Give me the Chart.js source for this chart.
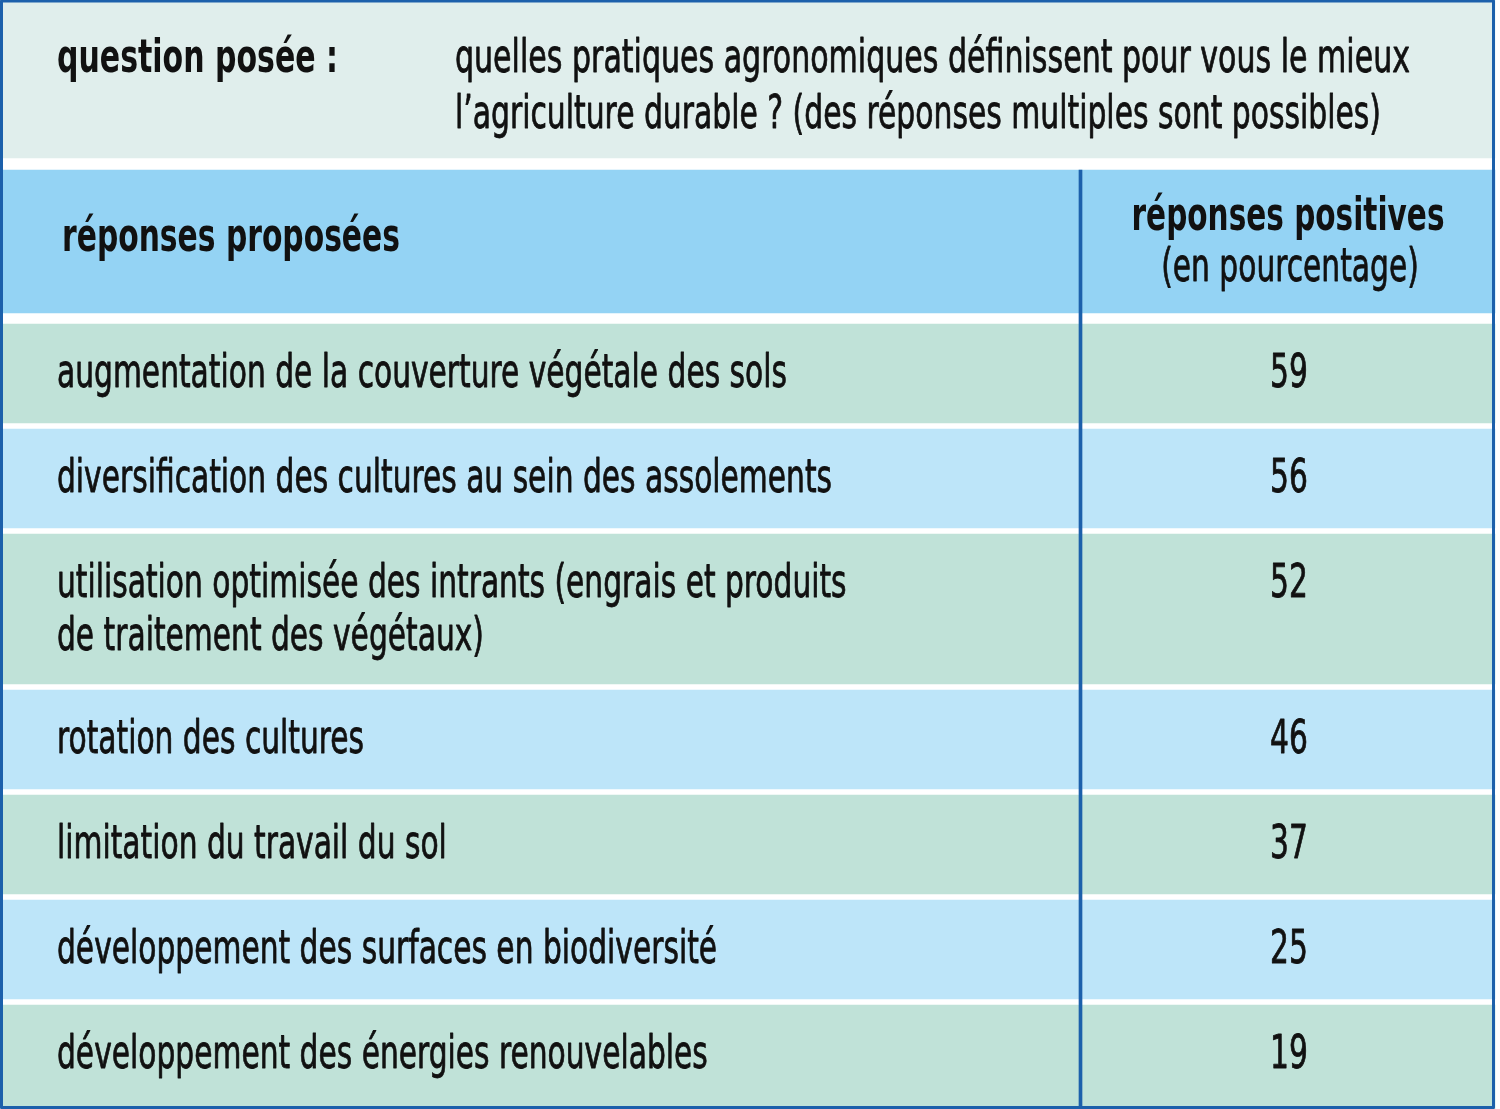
<!DOCTYPE html>
<html>
<head>
<meta charset="utf-8">
<script src="https://cdn.jsdelivr.net/npm/chart.js@4.4.1/dist/chart.umd.min.js"></script>
<style>
  html, body { margin:0; padding:0; background:#fff; }
  #wrap { width:1500px; height:1109px; }
</style>
</head>
<body>
<div id="wrap"><canvas id="table-canvas" width="1500" height="1109"></canvas></div>
<script>
// contenu du tableau
const questionLabel = 'question posée :';
const questionLines = [
  'quelles pratiques agronomiques définissent pour vous le mieux',
  'l’agriculture durable ? (des réponses multiples sont possibles)'
];
const headLeft  = 'réponses proposées';
const headRight = ['réponses positives', '(en pourcentage)'];
const answers = [
  ['augmentation de la couverture végétale des sols'],
  ['diversification des cultures au sein des assolements'],
  ['utilisation optimisée des intrants (engrais et produits', 'de traitement des végétaux)'],
  ['rotation des cultures'],
  ['limitation du travail du sol'],
  ['développement des surfaces en biodiversité'],
  ['développement des énergies renouvelables']
];
const positives = [59, 56, 52, 46, 37, 25, 19];

// mise en page (unités = px, les échelles vont de 0 à W / 0 à H)
const W = 1500, H = 1109, TABLE_R = 1495, COL_X = 1080.5;
const Q_TOP = 0, Q_BOT = 158, HEAD_TOP = 170, HEAD_BOT = 313;
const ROWS_TOP = 324, ROW_GAP = 6, LINE_H = 53;
const rowHeight = n => n === 1 ? 99 : 150;
const GREEN = '#c0e2d8', BLUE = '#bde5f9', HEAD_BG = '#94d3f4', Q_BG = '#e0eeec', INK = '#111111', RULE = '#1c60ab';

const rowTops = [];
let yy = ROWS_TOP;
answers.forEach(a => {
  rowTops.push(yy);
  yy += rowHeight(a.length) + ROW_GAP;
});
const rowBot = i => i === answers.length - 1 ? H : rowTops[i] + rowHeight(answers[i].length);

const band = (top, bot, color) => ({
  type: 'bar', data: [{ y: (top + bot) / 2, x: [0, TABLE_R] }],
  backgroundColor: color, barThickness: bot - top, grouped: false, borderWidth: 0, order: 1
});

const datasets = [
  // filet vertical entre les deux colonnes (order bas = dessiné par-dessus)
  { type: 'bar', data: [{ y: (HEAD_TOP + H) / 2, x: [COL_X - 1.5, COL_X + 1.5] }],
    backgroundColor: RULE, barThickness: H - HEAD_TOP, grouped: false, borderWidth: 0, order: 0 },
  band(Q_TOP, Q_BOT, Q_BG),
  band(HEAD_TOP, HEAD_BOT, HEAD_BG),
  ...answers.map((a, i) => band(rowTops[i], rowBot(i), i % 2 ? BLUE : GREEN))
];

const REG  = '46px "Liberation Sans Narrow", "DejaVu Sans Condensed", "Roboto", sans-serif';
const BOLD = 'bold 46px "Liberation Sans Narrow", "DejaVu Sans Condensed", "Roboto", sans-serif';

const textPlugin = {
  id: 'tableText',
  afterDatasetsDraw(chart) {
    const { ctx, scales: { x, y } } = chart;
    ctx.save();
    ctx.fillStyle = INK;
    ctx.strokeStyle = INK;
    ctx.lineJoin = 'round';
    ctx.textBaseline = 'alphabetic';

    ctx.font = REG;
    const kReg = 730 / ctx.measureText(answers[0][0]).width;
    ctx.font = BOLD;
    const kBold = 313 / ctx.measureText(headRight[0]).width;

    const put = (txt, px, py, font, k, align, target) => {
      ctx.font = font;
      if (target) k = target / ctx.measureText(txt).width;
      const w = ctx.measureText(txt).width * k;
      let x0 = x.getPixelForValue(px);
      if (align === 'center') x0 -= w / 2;
      ctx.save();
      ctx.translate(x0, y.getPixelForValue(py));
      ctx.scale(k, 1);
      ctx.textAlign = 'left';
      ctx.fillText(txt, 0, 0);
      if (font === REG) { ctx.lineWidth = 0.8; ctx.strokeText(txt, 0, 0); }
      ctx.restore();
    };

    put(questionLabel, 57, 72, BOLD, kBold, 'left', 281);
    put(questionLines[0], 455, 72, REG, kReg, 'left', 955);
    put(questionLines[1], 455, 128, REG, kReg, 'left', 926);

    put(headLeft, 62, 251, BOLD, kBold, 'left', 338);
    put(headRight[0], 1288, 230, BOLD, kBold, 'center');
    put(headRight[1], 1290, 281, REG, kReg, 'center');

    answers.forEach((lines, i) => {
      const base = rowTops[i] + 63;
      lines.forEach((l, j) => put(l, 57, base + j * LINE_H, REG, kReg));
      put(String(positives[i]), 1289, base, REG, kReg, 'center');
    });

    // cadre extérieur
    ctx.strokeStyle = RULE;
    ctx.lineWidth = 3;
    const l = x.getPixelForValue(1.5), r = x.getPixelForValue(TABLE_R - 1.5);
    const t = y.getPixelForValue(1), b = y.getPixelForValue(H - 1.5);
    ctx.strokeRect(l, t, r - l, b - t);
    ctx.restore();
  }
};

new Chart(document.getElementById('table-canvas'), {
  type: 'bar',
  data: { datasets },
  options: {
    indexAxis: 'y',
    responsive: false,
    animation: false,
    devicePixelRatio: 1,
    layout: { padding: 0 },
    plugins: { legend: { display: false }, tooltip: { enabled: false } },
    scales: {
      x: { type: 'linear', min: 0, max: W, offset: false, display: false },
      y: { type: 'linear', min: 0, max: H, reverse: true, offset: false, display: false, grid: { offset: false } }
    }
  },
  plugins: [textPlugin]
});
</script>
</body>
</html>
